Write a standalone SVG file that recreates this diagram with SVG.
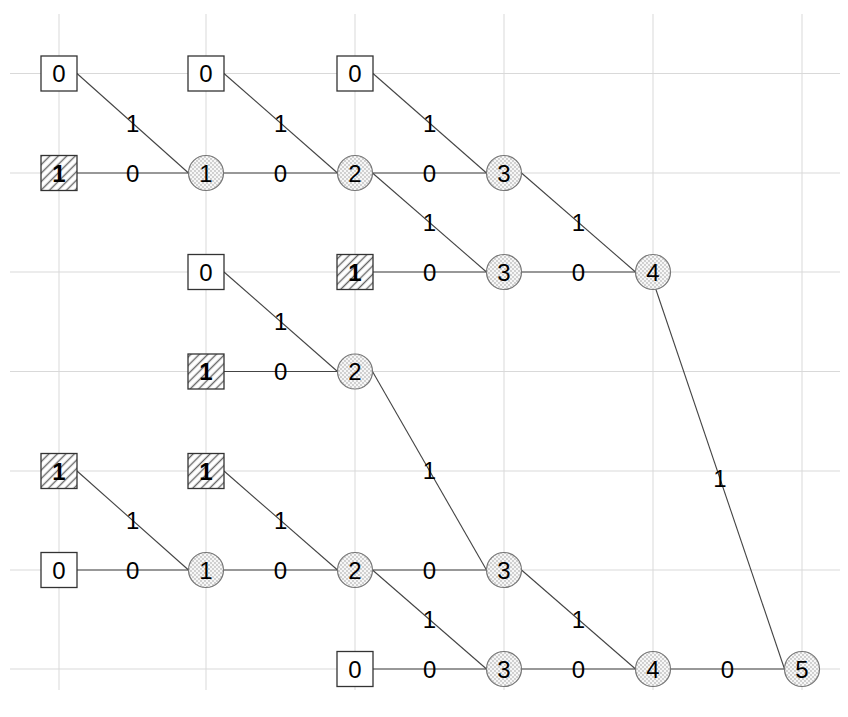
<svg xmlns="http://www.w3.org/2000/svg" width="848" height="717" viewBox="0 0 848 717">
<defs>
<pattern id="hatch" patternUnits="userSpaceOnUse" width="6" height="6" patternTransform="rotate(45)">
<rect width="6" height="6" fill="#ffffff"/>
<line x1="1.5" y1="0" x2="1.5" y2="6" stroke="#666" stroke-width="1.4"/>
</pattern>
<pattern id="dots" patternUnits="userSpaceOnUse" width="4" height="4">
<rect width="4" height="4" fill="#f7f7f7"/>
<circle cx="1" cy="1" r="0.65" fill="#8a8a8a"/>
<circle cx="3" cy="3" r="0.65" fill="#8a8a8a"/>
</pattern>
<style>
.grid line{stroke:#d9d9d9;stroke-width:1}
.edge{stroke:#444;stroke-width:1.1;fill:none}
.lbl{font-family:"Liberation Sans",Arial,sans-serif;font-size:24px;fill:#000;text-anchor:middle}
.box{fill:#fff;stroke:#333;stroke-width:1.3}
.hbox{fill:url(#hatch);stroke:#333;stroke-width:1.3}
.circ{fill:url(#dots);stroke:#777;stroke-width:1.2}
.bold{font-weight:bold}
</style>
</defs>
<rect width="848" height="717" fill="#fff"/>
<g class="grid">
<line x1="59" y1="14" x2="59" y2="690"/>
<line x1="206" y1="14" x2="206" y2="690"/>
<line x1="355" y1="14" x2="355" y2="690"/>
<line x1="504" y1="14" x2="504" y2="690"/>
<line x1="653" y1="14" x2="653" y2="690"/>
<line x1="802" y1="14" x2="802" y2="690"/>
<line x1="10" y1="73.5" x2="840" y2="73.5"/>
<line x1="10" y1="173" x2="840" y2="173"/>
<line x1="10" y1="272" x2="840" y2="272"/>
<line x1="10" y1="371.5" x2="840" y2="371.5"/>
<line x1="10" y1="471" x2="840" y2="471"/>
<line x1="10" y1="570" x2="840" y2="570"/>
<line x1="10" y1="669" x2="840" y2="669"/>
</g>
<g id="connectors">
<line class="edge" x1="77" y1="73.5" x2="188.5" y2="173"/>
<line class="edge" x1="77" y1="173" x2="188.5" y2="173"/>
<line class="edge" x1="224" y1="73.5" x2="337.5" y2="173"/>
<line class="edge" x1="223.5" y1="173" x2="337.5" y2="173"/>
<line class="edge" x1="373" y1="73.5" x2="486.5" y2="173"/>
<line class="edge" x1="372.5" y1="173" x2="486.5" y2="173"/>
<line class="edge" x1="372.5" y1="173" x2="486.5" y2="272"/>
<line class="edge" x1="373" y1="272" x2="486.5" y2="272"/>
<line class="edge" x1="521.5" y1="173" x2="635.5" y2="272"/>
<line class="edge" x1="521.5" y1="272" x2="635.5" y2="272"/>
<line class="edge" x1="650" y1="272" x2="784.5" y2="669"/>
<line class="edge" x1="224" y1="272" x2="337.5" y2="371.5"/>
<line class="edge" x1="224" y1="371.5" x2="337.5" y2="371.5"/>
<line class="edge" x1="372.5" y1="371.5" x2="486.5" y2="570"/>
<line class="edge" x1="77" y1="471" x2="188.5" y2="570"/>
<line class="edge" x1="77" y1="570" x2="188.5" y2="570"/>
<line class="edge" x1="224" y1="471" x2="337.5" y2="570"/>
<line class="edge" x1="223.5" y1="570" x2="337.5" y2="570"/>
<line class="edge" x1="372.5" y1="570" x2="486.5" y2="570"/>
<line class="edge" x1="372.5" y1="570" x2="486.5" y2="669"/>
<line class="edge" x1="373" y1="669" x2="486.5" y2="669"/>
<line class="edge" x1="521.5" y1="570" x2="635.5" y2="669"/>
<line class="edge" x1="521.5" y1="669" x2="635.5" y2="669"/>
<line class="edge" x1="670.5" y1="669" x2="784.5" y2="669"/>
<g class="lbl">
<text x="132.75" y="131.75">1</text>
<text x="132.75" y="181.5">0</text>
<text x="280.75" y="131.75">1</text>
<text x="280.5" y="181.5">0</text>
<text x="429.75" y="131.75">1</text>
<text x="429.5" y="181.5">0</text>
<text x="429.5" y="231">1</text>
<text x="429.75" y="280.5">0</text>
<text x="578.5" y="231">1</text>
<text x="578.5" y="280.5">0</text>
<text x="720" y="486.5">1</text>
<text x="280.75" y="330.25">1</text>
<text x="280.75" y="380">0</text>
<text x="429.5" y="479.25">1</text>
<text x="132.75" y="529">1</text>
<text x="132.75" y="578.5">0</text>
<text x="280.75" y="529">1</text>
<text x="280.5" y="578.5">0</text>
<text x="429.5" y="578.5">0</text>
<text x="429.5" y="628">1</text>
<text x="429.75" y="677.5">0</text>
<text x="578.5" y="628">1</text>
<text x="578.5" y="677.5">0</text>
<text x="727.5" y="677.5">0</text>
</g>
</g>
<g id="b00"><rect class="box" x="41" y="56" width="36" height="35"/><text class="lbl" x="59" y="82">0</text></g>
<g id="b10"><rect class="box" x="188" y="56" width="36" height="35"/><text class="lbl" x="206" y="82">0</text></g>
<g id="b20"><rect class="box" x="337" y="56" width="36" height="35"/><text class="lbl" x="355" y="82">0</text></g>
<g id="h01"><rect class="hbox" x="41" y="155.5" width="36" height="35"/><text class="lbl bold" x="59" y="181.5">1</text></g>
<g id="c11"><circle class="circ" cx="206" cy="173" r="17.5"/><text class="lbl" x="206" y="181.5">1</text></g>
<g id="c21"><circle class="circ" cx="355" cy="173" r="17.5"/><text class="lbl" x="355" y="181.5">2</text></g>
<g id="c31"><circle class="circ" cx="504" cy="173" r="17.5"/><text class="lbl" x="504" y="181.5">3</text></g>
<g id="b12"><rect class="box" x="188" y="254.5" width="36" height="35"/><text class="lbl" x="206" y="280.5">0</text></g>
<g id="h22"><rect class="hbox" x="337" y="254.5" width="36" height="35"/><text class="lbl bold" x="355" y="280.5">1</text></g>
<g id="c32"><circle class="circ" cx="504" cy="272" r="17.5"/><text class="lbl" x="504" y="280.5">3</text></g>
<g id="c42"><circle class="circ" cx="653" cy="272" r="17.5"/><text class="lbl" x="653" y="280.5">4</text></g>
<g id="h13"><rect class="hbox" x="188" y="354" width="36" height="35"/><text class="lbl bold" x="206" y="380">1</text></g>
<g id="c23"><circle class="circ" cx="355" cy="371.5" r="17.5"/><text class="lbl" x="355" y="380">2</text></g>
<g id="h04"><rect class="hbox" x="41" y="453.5" width="36" height="35"/><text class="lbl bold" x="59" y="479.5">1</text></g>
<g id="h14"><rect class="hbox" x="188" y="453.5" width="36" height="35"/><text class="lbl bold" x="206" y="479.5">1</text></g>
<g id="b05"><rect class="box" x="41" y="552.5" width="36" height="35"/><text class="lbl" x="59" y="578.5">0</text></g>
<g id="c15"><circle class="circ" cx="206" cy="570" r="17.5"/><text class="lbl" x="206" y="578.5">1</text></g>
<g id="c25"><circle class="circ" cx="355" cy="570" r="17.5"/><text class="lbl" x="355" y="578.5">2</text></g>
<g id="c35"><circle class="circ" cx="504" cy="570" r="17.5"/><text class="lbl" x="504" y="578.5">3</text></g>
<g id="b26"><rect class="box" x="337" y="651.5" width="36" height="35"/><text class="lbl" x="355" y="677.5">0</text></g>
<g id="c36"><circle class="circ" cx="504" cy="669" r="17.5"/><text class="lbl" x="504" y="677.5">3</text></g>
<g id="c46"><circle class="circ" cx="653" cy="669" r="17.5"/><text class="lbl" x="653" y="677.5">4</text></g>
<g id="c56"><circle class="circ" cx="802" cy="669" r="17.5"/><text class="lbl" x="802" y="677.5">5</text></g>
</svg>
